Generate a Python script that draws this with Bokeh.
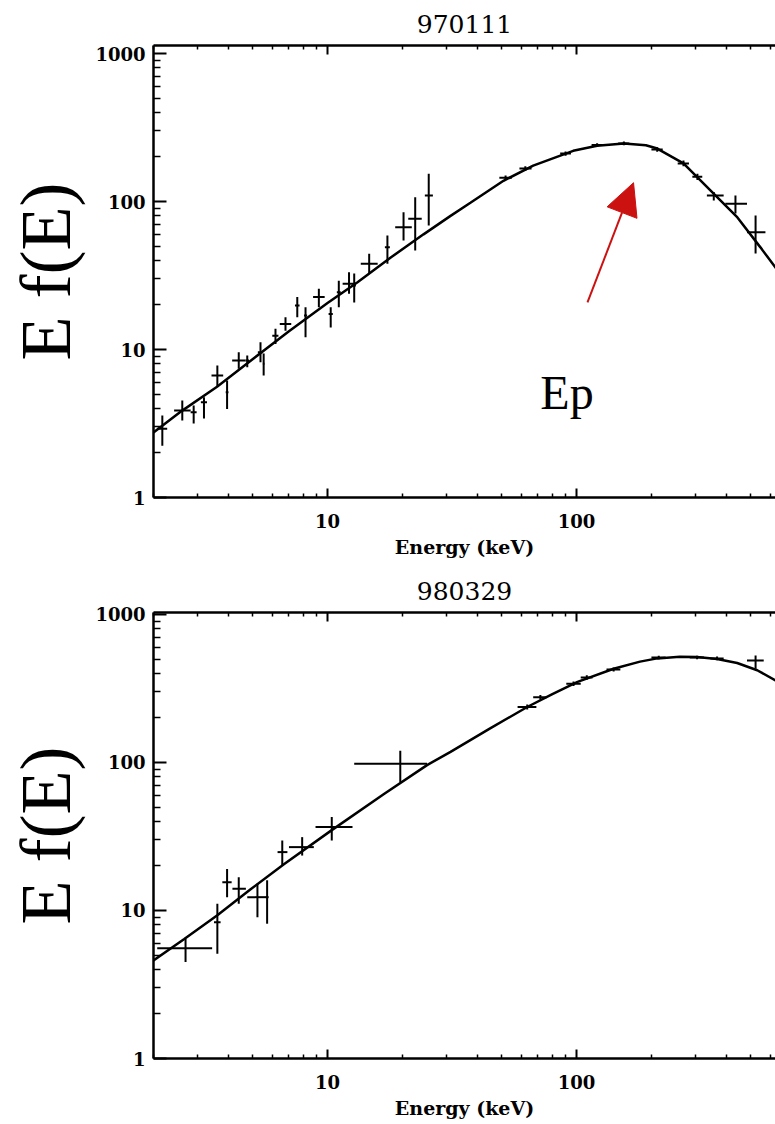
from bokeh.plotting import figure
from bokeh.models import (FixedTicker, LogAxis, PrintfTickFormatter, Label, Arrow,
                          NormalHead, Range1d)
from bokeh.layouts import column
from bokeh.embed import file_html
from bokeh.resources import INLINE

# ---------------- data ----------------
titles = ["970111", "980329"]
y_label = "E f(E)"
x_label = "Energy (keV)"
major_ticks = [1, 10, 100, 1000]
minor_ticks = [2, 3, 4, 5, 6, 7, 8, 9, 20, 30, 40, 50, 60, 70, 80, 90,
               200, 300, 400, 500, 600, 700, 800, 900]

# panel 1 (970111) fitted model curve
curve1_e = [2.0, 2.6, 3.6, 5.0, 7.0, 10, 13.2, 18, 24.3, 31.2, 37.5, 50.9, 67, 97,
            121, 155, 190, 211, 269, 345, 443, 548, 630, 700]
curve1_f = [2.75, 3.85, 5.6, 8.6, 13.3, 20.6, 28.5, 42, 60, 80, 98, 138, 175, 220,
            238, 247, 240, 228, 181, 119, 78, 49, 35.8, 28]

# panel 1 data points
pts1_e = [2.17, 2.61, 2.90, 3.19, 3.61, 3.95, 4.40, 4.76, 5.38, 5.54, 6.18, 6.78,
          7.56, 8.16, 9.23, 10.3, 11.1, 12.2, 12.8, 14.7, 17.4, 20.2, 22.5, 25.5,
          51.9, 62.3, 90.4, 121, 155, 211, 269, 306, 356, 435, 524]
pts1_f = [2.91, 3.87, 3.77, 4.40, 6.67, 5.15, 8.43, 8.43, 9.59, 8.00, 12.4, 14.9,
          19.8, 17.0, 22.6, 17.4, 24.4, 27.8, 27.1, 37.9, 49.1, 67.0, 76.4, 110,
          145, 167, 211, 241, 247, 225, 181, 147, 110, 96.5, 62]
pts1_elo = [2.07, 2.42, 2.82, 3.10, 3.42, 3.90, 4.14, 4.68, 5.25, 5.50, 6.00, 6.43,
            7.40, 8.05, 8.75, 10.1, 10.9, 11.5, 12.6, 13.6, 17.0, 18.7, 21.1, 24.6,
            49, 59, 86, 115, 147, 200, 255, 292, 334, 396, 484]
pts1_ehi = [2.27, 2.82, 2.98, 3.28, 3.81, 4.00, 4.68, 4.84, 5.50, 5.58, 6.35, 7.15,
            7.72, 8.28, 9.74, 10.5, 11.3, 13.0, 13.0, 15.9, 17.8, 21.8, 23.9, 26.5,
            55, 66, 95, 127, 163, 222, 283, 320, 390, 484, 574]
pts1_flo = [2.24, 3.31, 3.16, 3.42, 5.57, 3.97, 7.40, 7.60, 8.20, 6.67, 10.9, 13.4,
            16.5, 12.1, 19.3, 14.1, 19.3, 23.8, 20.8, 32.6, 37.9, 54.6, 46.6, 68.8,
            140, 161, 204, 234, 240, 217, 173, 140, 101.5, 83, 44.5]
pts1_fhi = [3.58, 4.52, 4.18, 4.76, 7.80, 6.17, 9.60, 9.10, 11.2, 9.40, 13.8, 16.5,
            22.6, 19.3, 25.7, 19.3, 29.2, 33.3, 32.6, 44.3, 58.9, 84.6, 107, 154,
            150, 173, 218, 248, 254, 233, 189, 154, 116, 110, 80.5]

# panel 2 (980329) fitted model curve
curve2_e = [2.0, 2.65, 3.61, 4.91, 6.68, 10.3, 16.8, 25.1, 31.2, 45, 63.4, 80, 101,
            141, 180, 211, 260, 305, 367, 442, 532, 630, 700]
curve2_f = [4.6, 6.4, 9.3, 13.9, 20.5, 34.5, 61, 96, 118, 170, 237, 290, 350,
            430, 480, 505, 518, 515, 500, 470, 420, 358, 310]

# panel 2 data points
pts2_e = [2.69, 3.61, 3.95, 4.40, 5.23, 5.72, 6.58, 7.91, 10.4, 19.6,
          63.4, 71.6, 97.3, 110, 141, 214, 305, 367, 524]
pts2_f = [5.56, 8.34, 15.5, 14.0, 12.3, 12.3, 24.8, 26.8, 36.6, 98,
          237, 276, 340, 375, 425, 512, 512, 505, 489]
pts2_elo = [2.07, 3.50, 3.78, 4.15, 4.76, 5.65, 6.30, 7.0, 8.95, 12.8,
            58, 67, 91, 104, 132, 200, 285, 345, 484]
pts2_ehi = [3.44, 3.72, 4.12, 4.70, 5.75, 5.80, 6.90, 8.81, 12.6, 25.1,
            69, 76, 104, 116, 150, 228, 325, 390, 565]
pts2_flo = [4.48, 5.1, 12.3, 11.1, 9.0, 8.14, 20.2, 23.5, 29.7, 73.6,
            228, 266, 328, 362, 412, 498, 498, 490, 430]
pts2_fhi = [6.44, 11.1, 19.1, 16.8, 15.2, 16.0, 29.7, 31.3, 42.8, 120,
            246, 286, 352, 388, 438, 526, 526, 520, 528]

# annotation (panel 1)
ep_text = "Ep"
ep_pos = (71.6, 5.1)
arrow_start = (110.7, 20.8)
arrow_end = (169.5, 134)

SERIF = "DejaVu Serif"


def style_axis(ax, tick_in, minor_in, labels=True):
    ax.ticker = FixedTicker(ticks=major_ticks, minor_ticks=minor_ticks)
    ax.axis_line_color = "black"
    ax.axis_line_width = 2.5
    ax.major_tick_line_color = "black"
    ax.major_tick_line_width = 2
    ax.minor_tick_line_color = "black"
    ax.minor_tick_line_width = 1.5
    ax.major_tick_in = tick_in
    ax.major_tick_out = 0
    ax.minor_tick_in = minor_in
    ax.minor_tick_out = 0
    ax.formatter = PrintfTickFormatter(format="%d")
    if labels:
        ax.major_label_text_font = SERIF
        ax.major_label_text_font_style = "bold"
        ax.major_label_text_font_size = "18px"
        ax.major_label_text_color = "black"
    else:
        ax.major_label_text_font_size = "1px"
        ax.major_label_text_alpha = 0
        ax.major_label_standoff = 0


def make_panel(title, height, top, bottom, yend, ce, cf, pe, pf, pelo, pehi, pflo, pfhi):
    p = figure(width=775, height=height, x_axis_type="log", y_axis_type="log",
               x_range=Range1d(2, 630), y_range=Range1d(1, yend),
               output_backend="svg", toolbar_location=None,
               min_border_left=153, min_border_right=0,
               min_border_top=top, min_border_bottom=bottom,
               background_fill_color="white", border_fill_color="white")
    p.outline_line_color = None
    p.grid.visible = False

    p.title.text = title
    p.title.align = "center"
    p.title.text_font = SERIF
    p.title.text_font_style = "normal"
    p.title.text_font_size = "25px"
    p.title.text_color = "black"
    p.title.standoff = 25

    style_axis(p.xaxis[0], 9, 4)
    style_axis(p.yaxis[0], 13, 7)
    p.xaxis.axis_label = x_label
    p.xaxis.axis_label_text_font = SERIF
    p.xaxis.axis_label_text_font_style = "bold"
    p.xaxis.axis_label_text_font_size = "19px"
    p.xaxis.axis_label_text_color = "black"
    p.xaxis.axis_label_standoff = 5
    p.xaxis.major_label_standoff = 16

    p.yaxis.axis_label = y_label
    p.yaxis.axis_label_text_font = "Liberation Serif"
    p.yaxis.axis_label_text_font_style = "normal"
    p.yaxis.axis_label_text_font_size = "72px"
    p.yaxis.axis_label_text_color = "black"
    p.yaxis.axis_label_standoff = 6
    p.yaxis.major_label_standoff = 8

    top_ax = LogAxis()
    style_axis(top_ax, 9, 4, labels=False)
    p.add_layout(top_ax, "above")

    p.line(ce, cf, line_color="black", line_width=2.5)
    p.segment(x0=pelo, y0=pf, x1=pehi, y1=pf, line_color="black", line_width=2)
    p.segment(x0=pe, y0=pflo, x1=pe, y1=pfhi, line_color="black", line_width=2)
    return p


p1 = make_panel(titles[0], 562, 45, 65, 1133, curve1_e, curve1_f, pts1_e, pts1_f,
                pts1_elo, pts1_ehi, pts1_flo, pts1_fhi)
p2 = make_panel(titles[1], 562, 50, 66, 1031, curve2_e, curve2_f, pts2_e, pts2_f,
                pts2_elo, pts2_ehi, pts2_flo, pts2_fhi)

p1.add_layout(Label(x=ep_pos[0], y=ep_pos[1], text=ep_text, text_font="Liberation Serif",
                    text_font_size="48px", text_color="black",
                    text_baseline="alphabetic"))
p1.add_layout(Arrow(x_start=arrow_start[0], y_start=arrow_start[1],
                    x_end=arrow_end[0], y_end=arrow_end[1],
                    line_color="#cc1111", line_width=2,
                    end=NormalHead(size=32, fill_color="#cc1111", line_color="#cc1111")))

layout = column(p1, p2, spacing=0)
open("out.html", "w").write(file_html(layout, INLINE))
